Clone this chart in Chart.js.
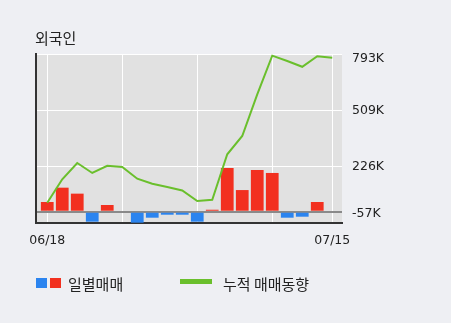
<!DOCTYPE html>
<html><head><meta charset="utf-8">
<script src="https://cdn.jsdelivr.net/npm/chart.js@4"></script>
<style>
html,body{margin:0;padding:0;background:#eeeff3;}
#wrap{position:relative;width:451px;height:323px;overflow:hidden;background:#eeeff3;}
canvas{position:absolute;left:0;top:0;}
.t{position:absolute;font-family:"Noto Sans CJK KR";font-size:15px;line-height:15px;color:#222;white-space:nowrap;}
.sw{position:absolute;}
</style></head><body>
<div id="wrap">
<canvas id="c" width="451" height="323"></canvas>
<div class="t" style="left:35px;top:30px">외국인</div>
<div class="sw" style="left:36px;top:278px;width:11px;height:10px;background:#2b84ef"></div>
<div class="sw" style="left:50px;top:278px;width:11px;height:10px;background:#f2301f"></div>
<div class="t" style="left:68px;top:276px">일별매매</div>
<div class="sw" style="left:180px;top:279px;width:32px;height:5px;background:#6abf2c"></div>
<div class="t" style="left:223px;top:276px">누적 매매동향</div>
</div>
<script>
const dates = ['06/18','06/19','06/20','06/21','06/24','06/25','06/26','06/27','06/28','07/01','07/02','07/03','07/04','07/05','07/08','07/09','07/10','07/11','07/12','07/15'];
const daily = [49000, 121000, 91000, -50000, 34000, 0, -55000, -30000, -15000, -15000, -50000, 10000, 220000, 109000, 210000, 195000, -30000, -25000, 49000, 0];
const cumulative = [45000, 163000, 245000, 195000, 231000, 225000, 166000, 141000, 124000, 107000, 54000, 60000, 289000, 381000, 590000, 785000, 758000, 729000, 782000, 775000];
const yTickValues = [-56667, 226667, 510000, 793333];
const yTickLabels = ['-57K', '226K', '509K', '793K'];
const xGridIndex = [0, 5, 10, 15, 19];

const RED = '#f2301f', BLUE = '#2b84ef', GREEN = '#6abf2c';

const bgPlugin = {
  id: 'bg',
  beforeDraw(chart) {
    const a = chart.chartArea, c = chart.ctx;
    c.save(); c.fillStyle = '#e1e1e1';
    c.fillRect(a.left, a.top, a.right - a.left, a.bottom - a.top);
    c.restore();
  }
};
const yLabelPlugin = {
  id: 'ylabels',
  afterDraw(chart) {
    const a = chart.chartArea, c = chart.ctx, y = chart.scales.y;
    c.save();
    c.font = '12.5px "DejaVu Sans"';
    c.fillStyle = '#222';
    c.textAlign = 'left';
    c.textBaseline = 'middle';
    yTickValues.forEach((v, i) => {
      let py = y.getPixelForValue(v);
      py = Math.max(a.top + 5, Math.min(a.bottom - 9, py));
      c.fillText(yTickLabels[i], a.right + 10, py);
    });
    c.restore();
  }
};

new Chart(document.getElementById('c'), {
  type: 'bar',
  data: {
    datasets: [
      { type: 'line', label: '누적 매매동향', data: cumulative.map((v, i) => ({x: i, y: v})),
        borderColor: GREEN, borderWidth: 2, pointRadius: 0, tension: 0, order: 0, clip: false },
      { type: 'bar', label: '일별매매', data: daily.map((v, i) => ({x: i, y: v})),
        backgroundColor: daily.map(v => v >= 0 ? RED : BLUE), barPercentage: 0.85, categoryPercentage: 1,
        order: 1, clip: false }
    ]
  },
  options: {
    responsive: false, animation: false, events: [],
    layout: { padding: { left: 36, top: 54, right: 109, bottom: 0 } },
    plugins: { legend: { display: false }, tooltip: { enabled: false } },
    scales: {
      x: {
        type: 'linear', position: 'bottom', min: -0.75, max: 19.65, offset: false,
        afterBuildTicks: s => { s.ticks = xGridIndex.map(v => ({value: v})); },
        afterFit: s => { s.height = 100; },
        grid: { color: '#ffffff', lineWidth: 1, drawTicks: false, offset: false },
        border: { display: true, color: '#333333', width: 2 },
        ticks: { autoSkip: false, maxRotation: 0, padding: 10.5, color: '#222',
          font: { family: 'DejaVu Sans', size: 12.5 },
          callback: v => (v === 0 || v === dates.length - 1) ? dates[v] : '' }
      },
      y: {
        type: 'linear', position: 'left', min: yTickValues[0], max: yTickValues[yTickValues.length - 1],
        afterBuildTicks: s => { s.ticks = [...yTickValues, 0].map(v => ({value: v})); },
        afterFit: s => { s.width = 0; },
        grid: { color: c => (c.tick && c.tick.value === 0) ? '#8a8a8a' : '#ffffff',
                lineWidth: c => (c.tick && c.tick.value === 0) ? 2 : 1, drawTicks: false },
        border: { display: true, color: '#333333', width: 2 },
        ticks: { display: false }
      }
    }
  },
  plugins: [bgPlugin, yLabelPlugin]
});
</script>
</body></html>
